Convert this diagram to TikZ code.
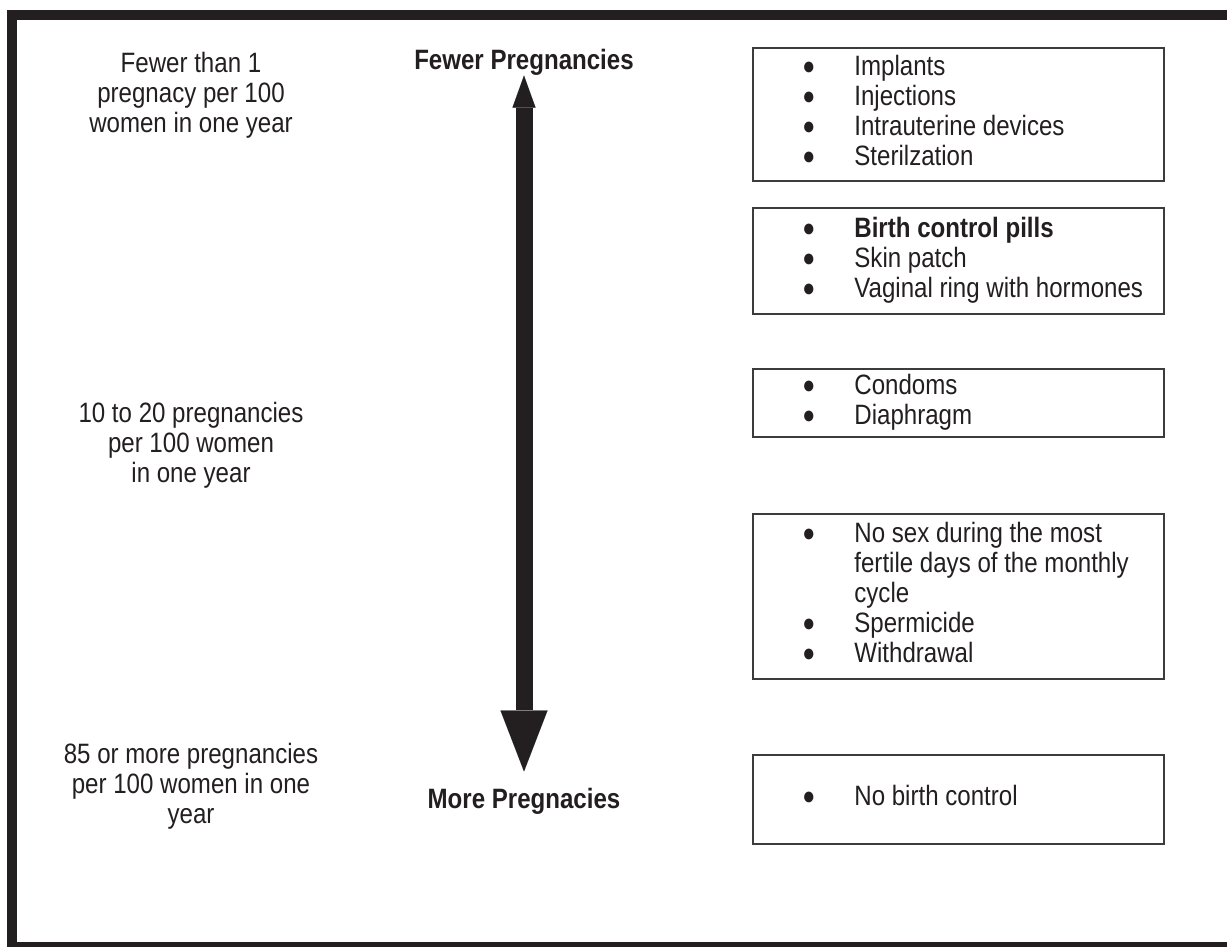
\documentclass[tikz,border=0pt]{standalone}
\usepackage{fontspec}
\setmainfont[FakeStretch=0.86]{Liberation Sans}
\usepackage{tikz}
\usetikzlibrary{arrows.meta}
\definecolor{ink}{RGB}{35,31,32}
\definecolor{boxline}{RGB}{60,60,60}
\newcommand{\pxu}{0.5pt}
\newcommand{\bulletmark}{\raisebox{0.3pt}{\fontsize{12.5}{13}\selectfont ●}}
\tikzset{
    every node/.style = {font=\fontsize{14}{15}\selectfont, text=ink},
    outer-frame/.style = {draw=ink, line width=4.6pt},
    method-box/.style = {draw=boxline, line width=1pt, rectangle, inner sep=0pt, minimum width=411*\pxu, anchor=north west},
    method-list/.style = {inner sep=0pt, anchor=west},
    rate-text/.style = {align=center},
    end-label/.style = {font=\fontsize{14}{15}\selectfont\bfseries, inner sep=0pt},
    scale-arrow/.style = {draw=ink, line width=8.5pt, shorten >=8pt,
        {Triangle[length=16pt, width=11.5pt, line width=0.01pt]}-{Triangle[length=30.5pt, width=23.5pt, line width=0.01pt]}},
}
\begin{document}
\begin{tikzpicture}[x=\pxu, y=-\pxu]
\useasboundingbox (0,0) rectangle (1227,947);
\fill[white] (0,0) rectangle (1227,947);
\draw[outer-frame] (1260,15) -- (12,15) -- (12,946.5) -- (1260,946.5);

\node[rate-text] (rate-low) at (191,95) {Fewer than 1\\pregnacy per 100\\women in one year};
\node[rate-text] (rate-mid) at (191,445) {10 to 20 pregnancies\\per 100 women\\in one year};
\node[rate-text] (rate-high) at (191,786) {85 or more pregnancies\\per 100 women in one\\year};

\node[end-label] (fewer) at (524,62) {Fewer Pregnancies};
\node[end-label] (more) at (524,801) {More Pregnacies};
\draw[scale-arrow] (fewer.south) -- (more.north);

\node[method-box, minimum height=133*\pxu] (box-long) at (752,47) {};
\node[method-list] (list-long) at ([xshift=25pt]box-long.west) {\begin{tabular}{@{}p{26pt}@{}l@{}}
\bulletmark & Implants\\
\bulletmark & Injections\\
\bulletmark & Intrauterine devices\\
\bulletmark & Sterilzation
\end{tabular}};

\node[method-box, minimum height=106*\pxu] (box-pill) at (752,207) {};
\node[method-list] (list-pill) at ([xshift=25pt]box-pill.west) {\begin{tabular}{@{}p{26pt}@{}l@{}}
\bulletmark & \textbf{Birth control pills}\\
\bulletmark & Skin patch\\
\bulletmark & Vaginal ring with hormones
\end{tabular}};

\node[method-box, minimum height=68*\pxu] (box-barrier) at (752,368) {};
\node[method-list] (list-barrier) at ([xshift=25pt]box-barrier.west) {\begin{tabular}{@{}p{26pt}@{}l@{}}
\bulletmark & Condoms\\
\bulletmark & Diaphragm
\end{tabular}};

\node[method-box, minimum height=165*\pxu] (box-natural) at (752,513) {};
\node[method-list] (list-natural) at ([xshift=25pt]box-natural.west) {\begin{tabular}{@{}p{26pt}@{}l@{}}
\bulletmark & No sex during the most\\
 & fertile days of the monthly\\
 & cycle\\
\bulletmark & Spermicide\\
\bulletmark & Withdrawal
\end{tabular}};

\node[method-box, minimum height=89*\pxu] (box-none) at (752,754) {};
\node[method-list] (list-none) at ([xshift=25pt]box-none.west) {\begin{tabular}{@{}p{26pt}@{}l@{}}
\bulletmark & No birth control
\end{tabular}};
\end{tikzpicture}
\end{document}
